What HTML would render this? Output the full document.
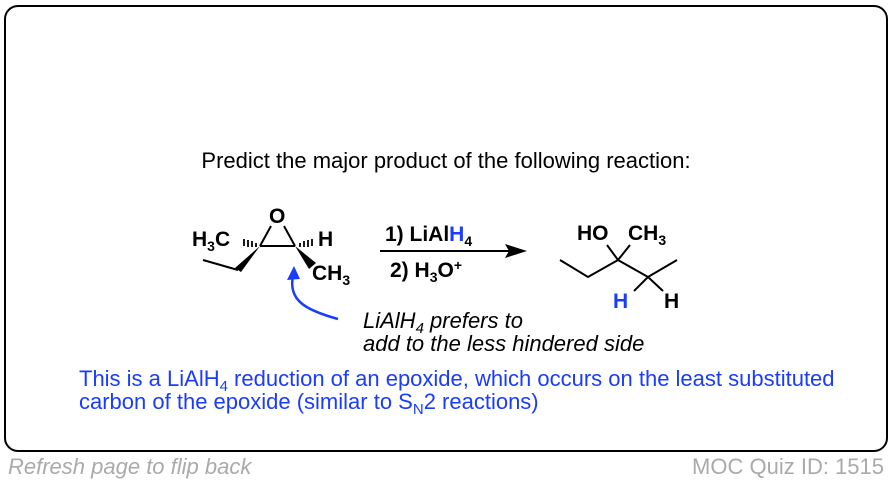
<!DOCTYPE html>
<html><head><meta charset="utf-8"><style>
html,body{margin:0;padding:0;background:#fff;}
svg{display:block;font-family:"Liberation Sans",Arial,sans-serif;}
</style></head><body>
<svg width="892" height="484" viewBox="0 0 892 484">
<rect x="5" y="6" width="882" height="445" rx="13" fill="#fff" stroke="#000" stroke-width="2"/>
<text x="446" y="168" font-size="22" text-anchor="middle" fill="#000">Predict the major product of the following reaction:</text>

<g stroke="#000" stroke-width="2" fill="none">
<line x1="260" y1="246" x2="295" y2="246"/>
<line x1="260" y1="246" x2="271" y2="226"/>
<line x1="295" y1="246" x2="284" y2="226"/>
<line x1="238" y1="270" x2="203" y2="260"/>
<line x1="648" y1="277" x2="634" y2="291"/>
<line x1="648" y1="277" x2="663" y2="291"/>
<polyline points="560,260 588,277 618,260 648,277 677,260"/>
<line x1="618" y1="260" x2="607" y2="245"/>
<line x1="618" y1="260" x2="630" y2="245"/>
</g>
<polygon points="260,246 235,268 241,272" fill="#000"/>
<polygon points="295,246 309,269 316,263" fill="#000"/>
<g stroke="#000" stroke-width="1.8">
<line x1="256" y1="243" x2="256" y2="247"/><line x1="252" y1="241" x2="252" y2="247"/><line x1="248" y1="240" x2="248" y2="247"/><line x1="244" y1="239" x2="244" y2="246"/>
<line x1="300" y1="243" x2="300" y2="247"/><line x1="304" y1="241" x2="304" y2="247"/><line x1="308" y1="240" x2="308" y2="247"/><line x1="312" y1="239" x2="312" y2="246"/>
</g>
<g font-size="21" font-weight="bold" fill="#000">
<text x="269" y="223">O</text>
<text x="192" y="246">H<tspan font-size="14" dy="5">3</tspan><tspan dy="-5">C</tspan></text>
<text x="318" y="246">H</text>
<text x="312" y="280">CH<tspan font-size="14" dy="5">3</tspan></text>
<text x="385" y="241">1) LiAl<tspan fill="#1a3cff">H</tspan><tspan font-size="14" dy="5">4</tspan></text>
<text x="390" y="277">2) H<tspan font-size="14" dy="5">3</tspan><tspan dy="-5">O</tspan><tspan font-size="14" dy="-7">+</tspan></text>
<text x="577" y="240">HO</text>
<text x="628" y="240">CH<tspan font-size="14" dy="5">3</tspan></text>
<text x="613" y="308" fill="#1a3cff">H</text>
<text x="664" y="308">H</text>
</g>
<line x1="380" y1="251" x2="510" y2="251" stroke="#000" stroke-width="2"/>
<polygon points="527,251 505,244 509,251 505,258" fill="#000"/>

<path d="M338,319 C305,310 288,300 293,276" stroke="#1a3cff" stroke-width="2.5" fill="none"/>
<polygon points="294,266 287,280 300,279" fill="#1a3cff"/>
<g font-size="22" font-style="italic" fill="#000">
<text x="363" y="328">LiAlH<tspan font-size="15" dy="5">4</tspan><tspan dy="-5"> prefers to</tspan></text>
<text x="363" y="351">add to the less hindered side</text>
</g>
<g font-size="22" fill="#1a3cff">
<text x="79" y="386">This is a LiAlH<tspan font-size="15" dy="5">4</tspan><tspan dy="-5"> reduction of an epoxide, which occurs on the least substituted</tspan></text>
<text x="79" y="409">carbon of the epoxide (similar to S<tspan font-size="15" dy="5">N</tspan><tspan dy="-5">2 reactions)</tspan></text>
</g>
<text x="8" y="474" font-size="22" font-style="italic" fill="#aaa">Refresh page to flip back</text>
<text x="884" y="474" font-size="22" fill="#aaa" text-anchor="end">MOC Quiz ID: 1515</text>
</svg>
</body></html>
